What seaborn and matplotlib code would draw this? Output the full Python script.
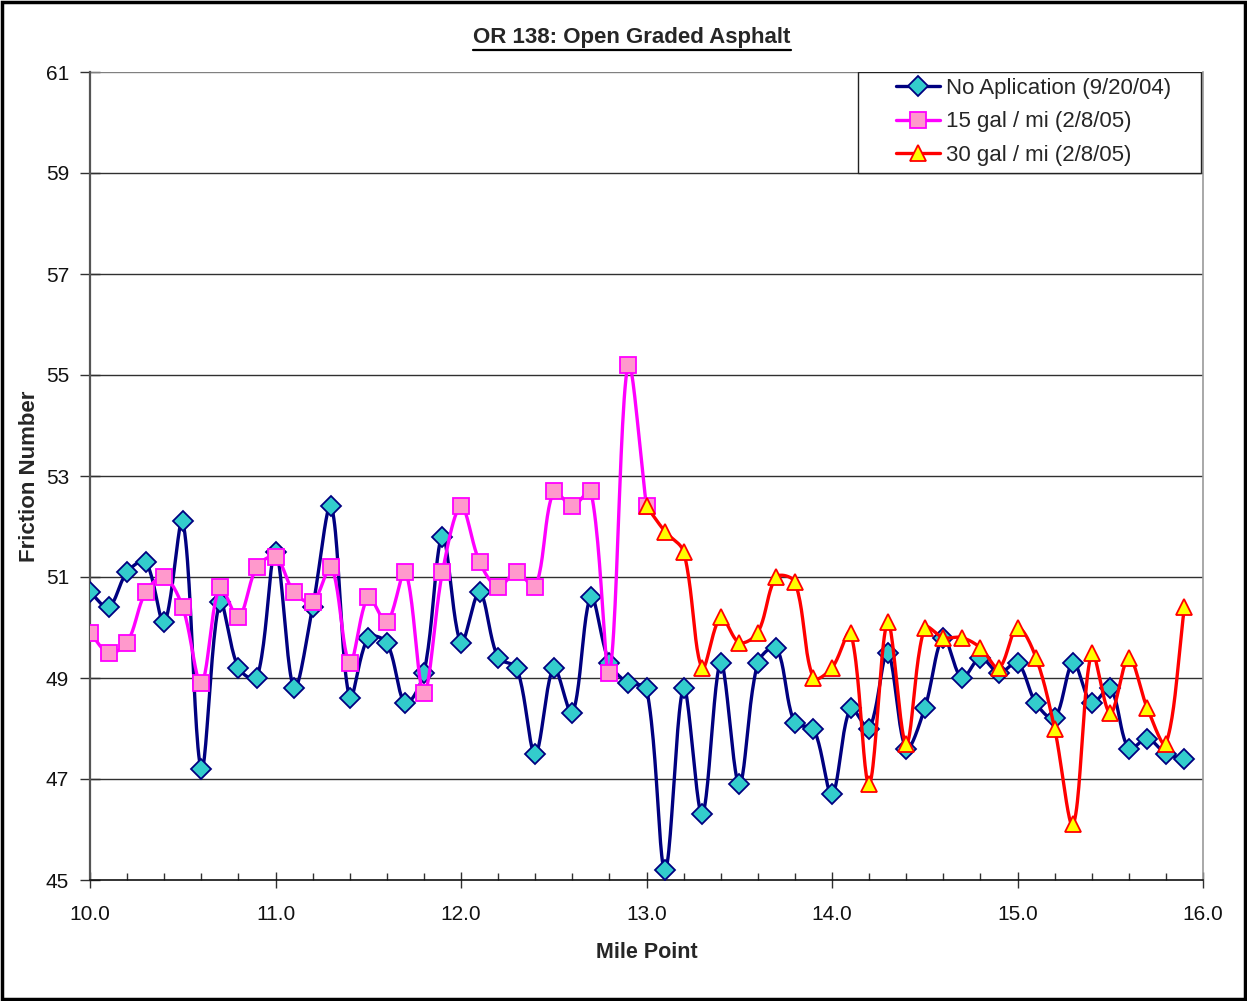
import numpy as np
import pandas as pd
import matplotlib
matplotlib.use("Agg")
import matplotlib.pyplot as plt
from matplotlib.lines import Line2D
from matplotlib.patches import Rectangle
from matplotlib.ticker import MultipleLocator
import seaborn as sns

# Friction survey data, OR 138 open graded asphalt
mile_none = [round(10.0 + 0.1 * i, 1) for i in range(60)]
friction_none = [50.7, 50.4, 51.1, 51.3, 50.1, 52.1, 47.2, 50.5, 49.2, 49.0,
                 51.5, 48.8, 50.4, 52.4, 48.6, 49.8, 49.7, 48.5, 49.1, 51.8,
                 49.7, 50.7, 49.4, 49.2, 47.5, 49.2, 48.3, 50.6, 49.3, 48.9,
                 48.8, 45.2, 48.8, 46.3, 49.3, 46.9, 49.3, 49.6, 48.1, 48.0,
                 46.7, 48.4, 48.0, 49.5, 47.6, 48.4, 49.8, 49.0, 49.4, 49.1,
                 49.3, 48.5, 48.2, 49.3, 48.5, 48.8, 47.6, 47.8, 47.5, 47.4]

mile_15 = [round(10.0 + 0.1 * i, 1) for i in range(31)]
friction_15 = [49.9, 49.5, 49.7, 50.7, 51.0, 50.4, 48.9, 50.8, 50.2, 51.2,
               51.4, 50.7, 50.5, 51.2, 49.3, 50.6, 50.1, 51.1, 48.7, 51.1,
               52.4, 51.3, 50.8, 51.1, 50.8, 52.7, 52.4, 52.7, 49.1, 55.2,
               52.4]

mile_30 = [round(13.0 + 0.1 * i, 1) for i in range(30)]
friction_30 = [52.4, 51.9, 51.5, 49.2, 50.2, 49.7, 49.9, 51.0, 50.9, 49.0,
               49.2, 49.9, 46.9, 50.1, 47.7, 50.0, 49.8, 49.8, 49.6, 49.2,
               50.0, 49.4, 48.0, 46.1, 49.5, 48.3, 49.4, 48.4, 47.7, 50.4]

labels = ["No Aplication (9/20/04)", "15 gal / mi (2/8/05)", "30 gal / mi (2/8/05)"]
y_ticks = [45, 47, 49, 51, 53, 55, 57, 59, 61]
x_ticks = [10.0, 11.0, 12.0, 13.0, 14.0, 15.0, 16.0]

# screen scale (pixels per data unit) used to weight the curve tangents
PX_PER_MILE = 185.5
PX_PER_FN = 50.5


def smooth(x, y, n=24):
    """Bezier smoothing through every point, tangents weighted by segment length."""
    x = np.asarray(x, float)
    y = np.asarray(y, float)
    P = np.column_stack([x * PX_PER_MILE, y * PX_PER_FN])
    P = np.vstack([P[0], P, P[-1]])
    t = np.linspace(0, 1, n, endpoint=False)[:, None]
    out = []
    for i in range(1, len(P) - 2):
        p0, p1, p2, p3 = P[i - 1], P[i], P[i + 1], P[i + 2]
        d01 = np.linalg.norm(p1 - p0)
        d12 = np.linalg.norm(p2 - p1)
        d23 = np.linalg.norm(p3 - p2)
        w1 = d12 / (d01 + d12) if d01 + d12 > 0 else 0.5
        w2 = d12 / (d12 + d23) if d12 + d23 > 0 else 0.5
        c1 = p1 + (p2 - p0) * w1 / 3.0
        c2 = p2 - (p3 - p1) * w2 / 3.0
        b = (1 - t) ** 3 * p1 + 3 * (1 - t) ** 2 * t * c1 \
            + 3 * (1 - t) * t ** 2 * c2 + t ** 3 * p2
        out.append(b)
    out.append(P[-2][None, :])
    out = np.vstack(out)
    return out[:, 0] / PX_PER_MILE, out[:, 1] / PX_PER_FN


sns.set_theme(style="white")
plt.rcParams["font.family"] = ["Liberation Sans", "DejaVu Sans"]

fig = plt.figure(figsize=(12.47, 10.01), dpi=100)
ax = fig.add_axes([90 / 1247, 1 - 880 / 1001, (1203 - 90) / 1247, (880 - 72) / 1001])

series = [
    (mile_none, friction_none, "#000080", "D", "#33CCCC", "#000080", 10.5),
    (mile_15, friction_15, "#FF00FF", "s", "#FF99CC", "#FF00FF", 11),
    (mile_30, friction_30, "#FF0000", "^", "#FFFF00", "#FF0000", 12),
]

handles = []
for k, (mx, fy, lc, mk, fc, ec, ms) in enumerate(series):
    sx, sy = smooth(mx, fy)
    curve = pd.DataFrame({"mile": sx, "fn": sy})
    sns.lineplot(data=curve, x="mile", y="fn", sort=False, estimator=None,
                 color=lc, linewidth=2.4, ax=ax, zorder=3 + 2 * k)
    ax.plot(mx, fy, linestyle="none", marker=mk, markersize=ms,
            markerfacecolor=fc, markeredgecolor=ec, markeredgewidth=1.3,
            zorder=4 + 2 * k)
    handles.append(Line2D([], [], color=lc, linewidth=2.4, marker=mk,
                          markersize=ms, markerfacecolor=fc,
                          markeredgecolor=ec, markeredgewidth=1.3))

ax.set_xlim(10.0, 16.0)
ax.set_ylim(45, 61)
ax.set_yticks(y_ticks)
ax.set_xticks(x_ticks)
ax.set_xticklabels([f"{v:.1f}" for v in x_ticks])
ax.xaxis.set_minor_locator(MultipleLocator(0.2))

ax.grid(False)
for yv in y_ticks[1:]:
    ax.axhline(yv, color="#303030" if yv < 61 else "#808080", linewidth=1.0, zorder=1)

ax.tick_params(axis="y", which="major", direction="inout", length=14, width=1,
               color="#303030", labelsize=15, pad=8, left=True)
ax.tick_params(axis="x", which="major", direction="inout", length=12, width=1,
               color="#303030", labelsize=15, pad=12, bottom=True)
ax.tick_params(axis="x", which="minor", direction="in", length=5, width=1,
               color="#303030", bottom=True)
for lab in ax.get_xticklabels() + ax.get_yticklabels():
    lab.set_color("#111111")

ax.spines["top"].set_visible(False)
ax.spines["left"].set_color("#555555")
ax.spines["left"].set_linewidth(1.6)
ax.spines["bottom"].set_color("#111111")
ax.spines["bottom"].set_linewidth(1.2)
ax.spines["right"].set_color("#999999")
ax.spines["right"].set_linewidth(1.2)

ax.set_xlabel("Mile Point", fontsize=15.5, fontweight="bold", labelpad=13)
ax.set_ylabel("Friction Number", fontsize=16, fontweight="bold", labelpad=4)

# Legend box
ax.add_patch(Rectangle(((858 - 90) / 1113, (880 - 173) / 808),
                       (1201 - 858) / 1113, (173 - 72) / 808,
                       transform=ax.transAxes, facecolor="white",
                       edgecolor="#222222", linewidth=1.0, zorder=10))
leg = ax.legend(handles, labels, loc="upper left",
                bbox_to_anchor=((886 - 90) / 1113, 1.005), frameon=False,
                fontsize=16, handlelength=2.0, handletextpad=0.25,
                labelspacing=0.56, borderaxespad=0.25, borderpad=0.2)
leg.set_zorder(11)

# Title with underline
title = fig.text(632 / 1247, 1 - 37 / 1001, "OR 138: Open Graded Asphalt",
                 ha="center", va="center", fontsize=16, fontweight="bold")
fig.canvas.draw()
bb = title.get_window_extent(fig.canvas.get_renderer())
uy = bb.y0 - 2
fig.add_artist(Line2D([bb.x0 / fig.bbox.width, bb.x1 / fig.bbox.width],
                      [uy / fig.bbox.height, uy / fig.bbox.height],
                      transform=fig.transFigure, color="black", linewidth=1.6))

# Outer chart border
fig.add_artist(Rectangle((0.0015, 0.0015), 0.997, 0.997, transform=fig.transFigure,
                         fill=False, edgecolor="black", linewidth=2.5))

fig.savefig("out.png", dpi=100)
